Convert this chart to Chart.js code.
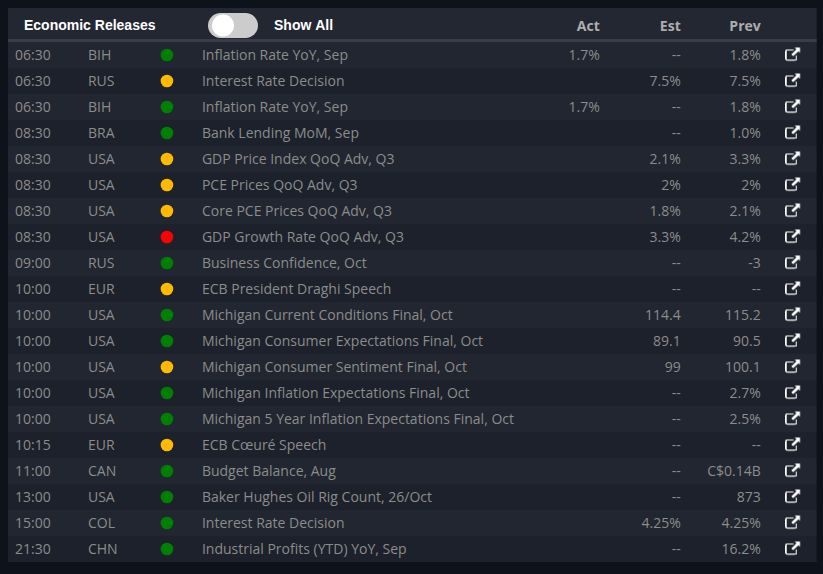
<!DOCTYPE html>
<html><head><meta charset="utf-8">
<style>html,body{margin:0;padding:0;background:#0e121b;overflow:hidden}canvas{display:block}#w{position:relative;width:823px;height:574px}</style>
<script src="https://cdn.jsdelivr.net/npm/chart.js@4/dist/chart.umd.min.js"></script>
</head><body><div id="w"><canvas id="c" width="823" height="574"></canvas></div>
<script>
const times=["06:30","06:30","06:30","08:30","08:30","08:30","08:30","08:30","09:00","10:00","10:00","10:00","10:00","10:00","10:00","10:15","11:00","13:00","15:00","21:30"];
const countries=["BIH","RUS","BIH","BRA","USA","USA","USA","USA","RUS","EUR","USA","USA","USA","USA","USA","EUR","CAN","USA","COL","CHN"];
const impact=["low","mid","low","low","mid","mid","mid","high","low","mid","low","low","mid","low","low","mid","low","low","low","low"];
const events=["Inflation Rate YoY, Sep","Interest Rate Decision","Inflation Rate YoY, Sep","Bank Lending MoM, Sep","GDP Price Index QoQ Adv, Q3","PCE Prices QoQ Adv, Q3","Core PCE Prices QoQ Adv, Q3","GDP Growth Rate QoQ Adv, Q3","Business Confidence, Oct","ECB President Draghi Speech","Michigan Current Conditions Final, Oct","Michigan Consumer Expectations Final, Oct","Michigan Consumer Sentiment Final, Oct","Michigan Inflation Expectations Final, Oct","Michigan 5 Year Inflation Expectations Final, Oct","ECB Cœuré Speech","Budget Balance, Aug","Baker Hughes Oil Rig Count, 26/Oct","Interest Rate Decision","Industrial Profits (YTD) YoY, Sep"];
const act=["1.7%","","1.7%","","","","","","","","","","","","","","","","",""];
const est=["--","7.5%","--","--","2.1%","2%","1.8%","3.3%","--","--","114.4","89.1","99","--","--","--","--","--","4.25%","--"];
const prev=["1.8%","7.5%","1.8%","1.0%","3.3%","2%","2.1%","4.2%","-3","--","115.2","90.5","100.1","2.7%","2.5%","--","C$0.14B","873","4.25%","16.2%"];
const headers=["Act","Est","Prev"];
const title="Economic Releases", toggleLabel="Show All";
const impactColor={low:"#008000",mid:"#ffb900",high:"#ff0000"};

// external-link icon used as the point style of the last column
function linkIcon(){
  const s=3,c=document.createElement('canvas');c.width=16*s;c.height=17*s;
  const g=c.getContext('2d');g.scale(s,s);g.strokeStyle='#fff';g.fillStyle='#fff';g.lineWidth=1.4;
  g.beginPath();g.moveTo(8.6,3.4);g.lineTo(2.8,3.4);g.quadraticCurveTo(1,3.4,1,5.2);g.lineTo(1,11.9);g.quadraticCurveTo(1,13.7,2.8,13.7);g.lineTo(9.8,13.7);g.quadraticCurveTo(11.6,13.7,11.6,11.9);g.lineTo(11.6,8.8);g.stroke();
  g.beginPath();g.moveTo(10,1);g.lineTo(15.4,1);g.lineTo(15.4,6.4);g.lineTo(13.6,4.7);g.lineTo(8.4,9.6);g.lineTo(6.7,7.9);g.lineTo(11.8,2.8);g.closePath();g.fill();
  const o=document.createElement('canvas');o.width=16;o.height=17;o.getContext('2d').drawImage(c,0,0,16,17);
  return o;
}
const COL={time:7,country:80,dot:159,event:194,act:592,est:673,prev:753,link:785};
const rows=times.map((_,i)=>i);

const tablePlugin={id:'table',
  beforeDatasetsDraw(ch){
    const g=ch.ctx,a=ch.chartArea,y=ch.scales.y,x=ch.scales.x;
    g.save();
    g.fillStyle='#0e121b';g.fillRect(0,0,823,574);
    g.fillStyle='#222732';g.fillRect(a.left,8,a.width,a.top-8);
    g.fillStyle='#383d49';g.fillRect(a.left,39,a.width,3);
    rows.forEach(i=>{
      const t=y.getPixelForValue(i-.5),b=y.getPixelForValue(i+.5);
      g.fillStyle=i%2?'#1c212b':'#212630';g.fillRect(a.left,t,a.width,b-t);
    });
    // header
    g.textBaseline='middle';g.textAlign='left';g.fillStyle='#fff';
    g.font='bold 14px "Liberation Sans"';g.fillText(title,24,26);
    g.fillText(toggleLabel,274,26);
    g.fillStyle='#ccc';g.beginPath();g.roundRect(208,13,50,25,12.5);g.fill();
    g.fillStyle='#fff';g.beginPath();g.arc(223,25.5,11,0,7);g.fill();
    g.fillStyle='#adadad';g.textAlign='right';g.font='bold 14px "Open Sans"';
    [COL.act,COL.est,COL.prev].forEach((c,k)=>g.fillText(headers[k],x.getPixelForValue(c),27));
    // body
    g.font='14px "Open Sans"';g.fillStyle='#8c8c8c';
    rows.forEach(i=>{
      const p=y.getPixelForValue(i)+1;
      g.textAlign='left';
      g.fillText(times[i],x.getPixelForValue(COL.time),p);
      g.fillText(countries[i],x.getPixelForValue(COL.country),p);
      g.fillText(events[i],x.getPixelForValue(COL.event),p);
      g.textAlign='right';
      g.fillText(act[i],x.getPixelForValue(COL.act),p);
      g.fillText(est[i],x.getPixelForValue(COL.est),p);
      g.fillText(prev[i],x.getPixelForValue(COL.prev),p);
    });
    g.restore();
  }};

const cv=document.getElementById('c');
cv.getContext('2d',{alpha:false}); // opaque canvas, so text is drawn with the same subpixel smoothing
new Chart(cv,{
  type:'scatter',
  plugins:[tablePlugin],
  data:{datasets:[
    {label:'Impact',data:rows.map(i=>({x:COL.dot,y:i})),pointRadius:6.3,pointHoverRadius:6.3,
      pointBackgroundColor:impact.map(k=>impactColor[k]),pointBorderWidth:0},
    {label:'Link',data:rows.map(i=>({x:COL.link,y:i})),pointStyle:linkIcon()}
  ]},
  options:{responsive:false,animation:false,events:[],
    layout:{padding:{left:8,right:6,top:42,bottom:12}},
    plugins:{legend:{display:false},tooltip:{enabled:false}},
    scales:{
      x:{type:'linear',min:0,max:809,display:false},
      y:{type:'linear',min:-.5,max:19.5,reverse:true,display:false}
    }}
});
</script></body></html>
